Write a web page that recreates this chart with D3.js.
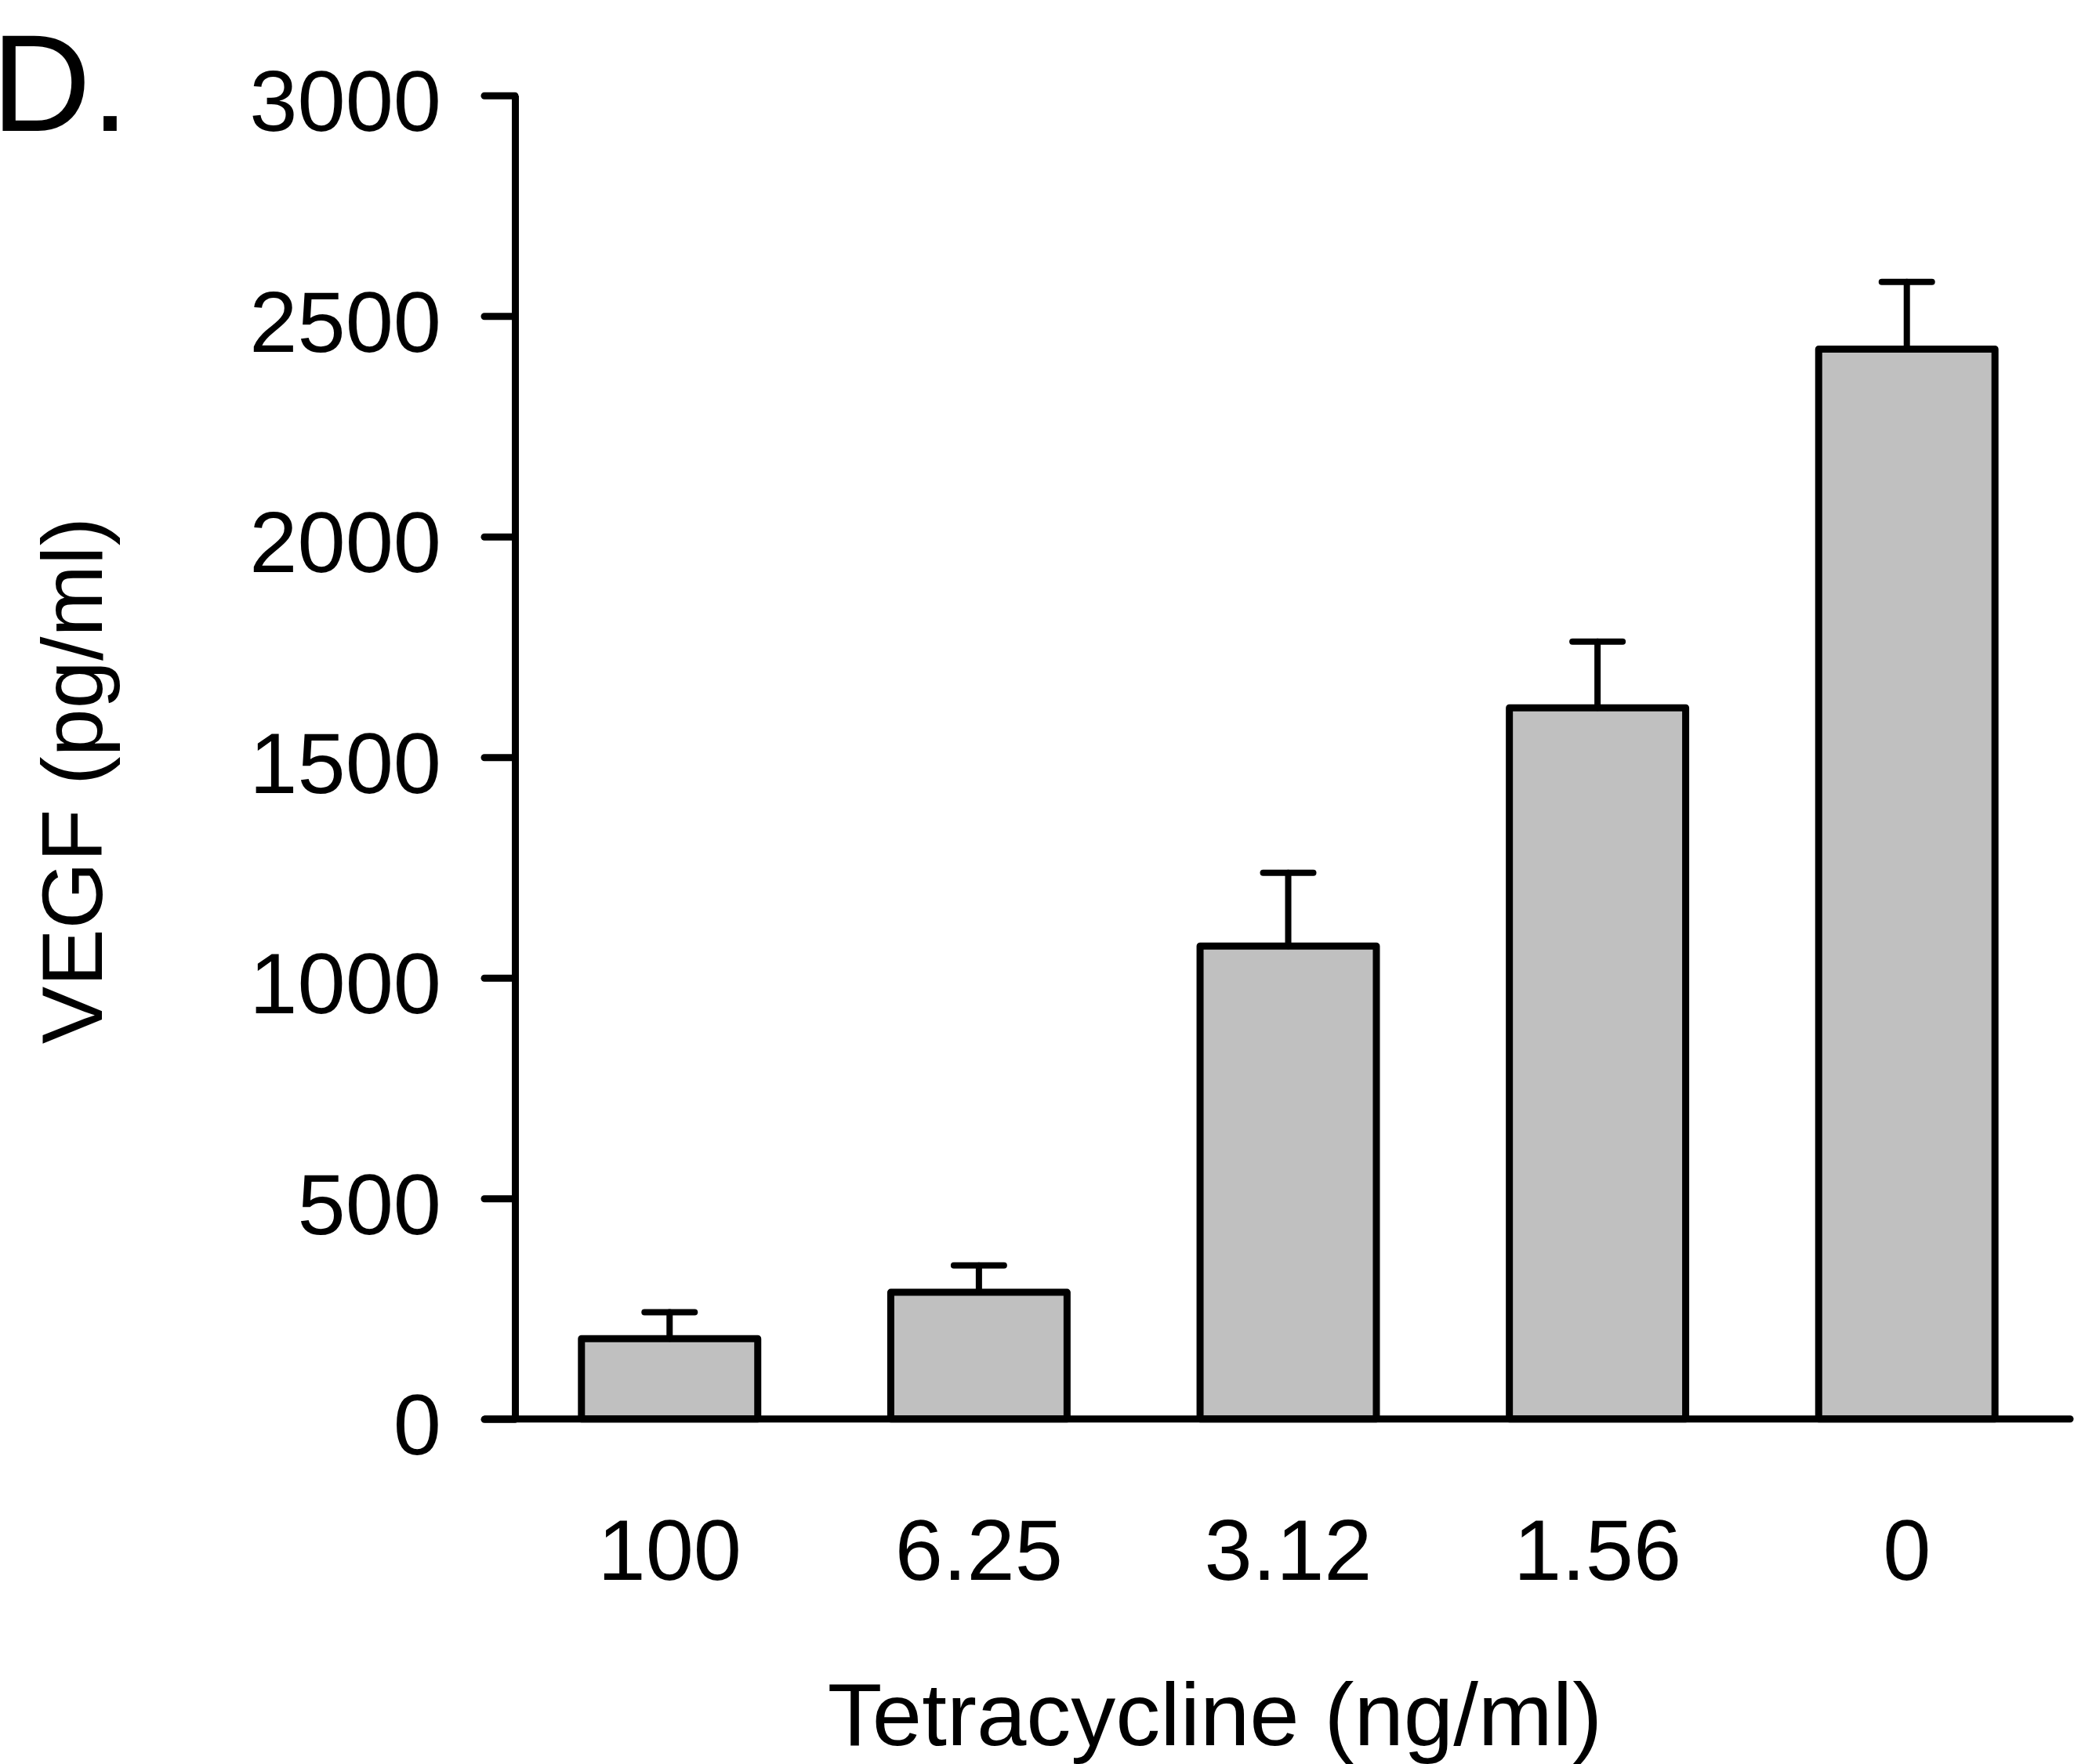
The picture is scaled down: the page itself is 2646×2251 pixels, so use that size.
<!DOCTYPE html>
<html>
<head>
<meta charset="utf-8">
<script src="https://cdn.jsdelivr.net/npm/d3@7"></script>
<style>
  body { margin: 0; background: #fff; }
  svg { display: block; }
  text { font-family: "Liberation Sans", Arial, Helvetica, sans-serif; fill: #000; }
</style>
</head>
<body>
<div id="chart"></div>
<script>
const width = 2646;
const height = 2251;

const doses = ['100', '6.25', '3.12', '1.56', '0'];
const vegf = [182, 287, 1072, 1612, 2425];
const vegfErr = [60, 61, 166, 150, 152];
const yTicks = [0, 500, 1000, 1500, 2000, 2500, 3000];

const data = doses.map((d, i) => ({ dose: d, value: vegf[i], err: vegfErr[i] }));

const axisX = 657;
const baseY = 1810.7;

const svg = d3.select('#chart')
  .append('svg')
  .attr('width', width)
  .attr('height', height);

const y = d3.scaleLinear()
  .domain([0, 3000])
  .range([baseY, 121.7]);

const x = d3.scaleBand()
  .domain(doses)
  .range([655, 2632])
  .paddingInner(0.43)
  .paddingOuter(0.22);

// y axis
const yAxisG = svg.append('g')
  .attr('transform', `translate(${axisX},0)`)
  .call(d3.axisLeft(y).tickValues(yTicks).tickFormat(d3.format('d'))
    .tickSize(39).tickPadding(55).tickSizeOuter(0));

yAxisG.select('.domain')
  .attr('stroke', '#000')
  .attr('stroke-width', 9);
yAxisG.selectAll('.tick line')
  .attr('stroke', '#000')
  .attr('stroke-width', 9)
  .attr('stroke-linecap', 'round');
yAxisG.selectAll('.tick text')
  .attr('font-size', 110)
  .attr('font-family', '"Liberation Sans", Arial, sans-serif')
  .attr('dy', '0.41em');

// bars
svg.append('g')
  .selectAll('rect')
  .data(data)
  .join('rect')
  .attr('x', d => x(d.dose))
  .attr('y', d => y(d.value))
  .attr('width', x.bandwidth())
  .attr('height', d => y(0) - y(d.value))
  .attr('fill', '#c0c0c0')
  .attr('stroke', '#000')
  .attr('stroke-width', 9)
  .attr('stroke-linejoin', 'round');

// error bars
const errG = svg.append('g')
  .attr('stroke', '#000')
  .attr('stroke-width', 8)
  .attr('stroke-linecap', 'round');

errG.selectAll('line.stem')
  .data(data)
  .join('line')
  .attr('class', 'stem')
  .attr('x1', d => x(d.dose) + x.bandwidth() / 2)
  .attr('x2', d => x(d.dose) + x.bandwidth() / 2)
  .attr('y1', d => y(d.value))
  .attr('y2', d => y(d.value + d.err));

errG.selectAll('line.cap')
  .data(data)
  .join('line')
  .attr('class', 'cap')
  .attr('x1', d => x(d.dose) + x.bandwidth() / 2 - 32)
  .attr('x2', d => x(d.dose) + x.bandwidth() / 2 + 32)
  .attr('y1', d => y(d.value + d.err))
  .attr('y2', d => y(d.value + d.err));

// x axis (baseline only, no ticks)
const xAxisG = svg.append('g')
  .attr('transform', `translate(0,${baseY})`)
  .call(d3.axisBottom(x).tickSize(0).tickPadding(205).tickSizeOuter(0));

xAxisG.select('.domain').remove();
xAxisG.selectAll('.tick text')
  .attr('font-size', 110)
  .attr('font-family', '"Liberation Sans", Arial, sans-serif')
  .attr('dy', '0');
svg.append('line')
  .attr('x1', 619)
  .attr('x2', 2641)
  .attr('y1', baseY)
  .attr('y2', baseY)
  .attr('stroke', '#000')
  .attr('stroke-width', 9)
  .attr('stroke-linecap', 'round');

// axis titles
svg.append('text')
  .text('Tetracycline (ng/ml)')
  .attr('x', 1550)
  .attr('y', 2227)
  .attr('text-anchor', 'middle')
  .attr('font-size', 114);

svg.append('text')
  .text('VEGF (pg/ml)')
  .attr('transform', 'translate(130,996) rotate(-90)')
  .attr('text-anchor', 'middle')
  .attr('font-size', 110);

// panel letter
svg.append('text')
  .text('D.')
  .attr('x', -11)
  .attr('y', 167)
  .attr('font-size', 176);
</script>
</body>
</html>
